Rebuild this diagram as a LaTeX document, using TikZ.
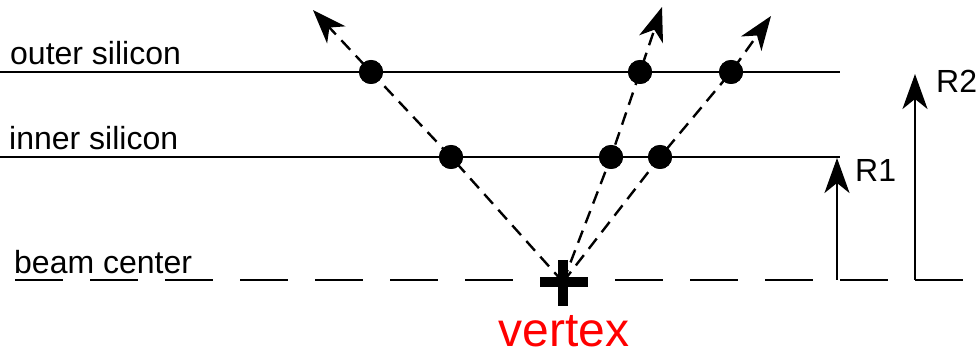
\documentclass[tikz,border=0pt]{standalone}
\usepackage{fontspec}
\setmainfont{Liberation Sans}
\usetikzlibrary{arrows.meta}
\definecolor{vred}{RGB}{255,0,0}
\tikzset{
  layer/.style={line width=2.8pt},
  track/.style={line width=2.4pt, dash pattern=on 13pt off 8pt, -{Stealth[length=34pt,width=25pt,inset=10pt]}},
  radius/.style={line width=2.8pt, -{Stealth[length=35pt,width=25pt,inset=10pt]}},
  hit/.style={circle, fill=black, inner sep=0pt, minimum size=24pt},
  lab/.style={inner sep=0pt, font=\fontsize{32}{38}\selectfont},
}
\begin{document}
\begin{tikzpicture}[x=1pt,y=-1pt]
\useasboundingbox (0,0) rectangle (980,355);
% layers
\coordinate (ol) at (0,72);
\coordinate (or) at (840,72);
\coordinate (il) at (0,157);
\coordinate (ir) at (840,157);
\coordinate (bl) at (15,280);
\coordinate (br) at (963,280);
\draw[layer] (ol) -- (or);
\draw[layer] (il) -- (ir);
\draw[layer, dash pattern=on 48pt off 27pt] (bl) -- (br);
% labels
\node[lab, anchor=base west] (outer) at (10,65) {outer silicon};
\node[lab, anchor=base west] (inner) at (9,150) {inner silicon};
\node[lab, anchor=base west] (beam) at (14,274) {beam center};
% vertex
\coordinate (vtx) at (563,282);
\draw[line width=10pt] (540,282) -- (588,282);
\draw[line width=10pt] (563,260) -- (563,306);
\node[inner sep=0pt, text depth=0pt, anchor=base, text=vred, font=\fontsize{48}{56}\selectfont] (vlab) at (564,346) {vertex};
% hits
\node[hit] (a1) at (451,157) {};
\node[hit] (a2) at (371,72) {};
\node[hit] (b1) at (611,157) {};
\node[hit] (b2) at (640,72) {};
\node[hit] (c1) at (660,157) {};
\node[hit] (c2) at (731,72) {};
\coordinate (ta) at (313,10);
\coordinate (tb) at (662,7);
\coordinate (tc) at (771,16);
% tracks
\draw[track] (vtx) -- (a1.center) -- (a2.center) -- (ta);
\draw[track] (vtx) -- (b1.center) -- (b2.center) -- (tb);
\draw[track] (vtx) -- (c1.center) -- (c2.center) -- (tc);
\node[hit] at (a1) {};
\node[hit] at (a2) {};
\node[hit] at (b1) {};
\node[hit] at (b2) {};
\node[hit] at (c1) {};
\node[hit] at (c2) {};
% radii
\coordinate (r1b) at (837,280);
\coordinate (r1t) at (837,158);
\coordinate (r2b) at (915,280);
\coordinate (r2t) at (915,74);
\draw[radius] (r1b) -- (r1t);
\draw[radius] (r2b) -- (r2t);
\node[lab, anchor=base west] (R1) at (855,182) {R1};
\node[lab, anchor=base west] (R2) at (936,93) {R2};
\end{tikzpicture}
\end{document}
